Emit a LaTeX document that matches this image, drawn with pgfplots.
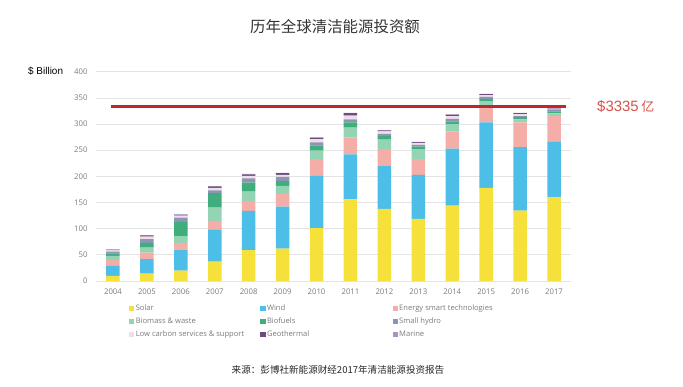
\documentclass[border=0pt]{standalone}
\usepackage{pgfplots}
\pgfplotsset{compat=1.18}
\usepackage{pgfplotstable}
\usepackage{fontspec}
\setmainfont{Open Sans}
\newfontfamily\cjk{Noto Sans CJK SC}
\newfontfamily\arial{Liberation Sans}
\definecolor{csolar}{HTML}{F6E03A}
\definecolor{cwind}{HTML}{4CBEE8}
\definecolor{cesm}{HTML}{F5ADA7}
\definecolor{cbio}{HTML}{93D4B4}
\definecolor{cbiof}{HTML}{3FAE7C}
\definecolor{chydro}{HTML}{8C95B4}
\definecolor{clowc}{HTML}{F0DDE9}
\definecolor{cgeo}{HTML}{6D4C7D}
\definecolor{cmarine}{HTML}{A593C2}
\definecolor{gridgray}{HTML}{E4E4E4}
\definecolor{labelgray}{HTML}{7A7A7A}
\definecolor{linered}{HTML}{C0272D}
\definecolor{textred}{HTML}{D9504A}
\pgfplotstableread{
x solar wind esm bio biof hydro lowc geo marine
0 9.6 19.1 11.3 8 5 3 2.5 1.5 0.3
1 14 28 12 10 9 7 5 2 0.5
2 20 39 14 13 27 8 4 2 0.5
3 37 60.5 17.5 25 28 5 5 3 0.5
4 59 75 19 18 17 8 5 3 0.5
5 62 80 24 16 9 8 4 3 0.5
6 101 100 32 16 10 6 6 3 0.5
7 156 86 32 19 10 6 7 5 0.5
8 138 82.5 31.5 18 7 4 5 2 0.5
9 118.5 84.5 30 19 5 3 4 1.5 0.5
10 144 109 33 14 5 5 5 3 0.5
11 178 125 32 9 4 4 3 2 0.5
12 134.5 121.5 47 6 4 2 4 2 0.5
13 160 106 49.5 5 3.5 4 1.5 2 0.5
}\data
\begin{document}
\begin{tikzpicture}
\path[use as bounding box] (0bp,0bp) rectangle (683bp,-387bp);
\begin{axis}[
  at={(96bp,-281bp)}, anchor=south west,
  width=475bp, height=209.3bp, scale only axis,
  ybar stacked, bar width=13.5bp,
  xmin=-0.5, xmax=13.5, ymin=0, ymax=400,
  ytick={0,50,...,400},
  xtick={0,...,13},
  xticklabels={2004,2005,2006,2007,2008,2009,2010,2011,2012,2013,2014,2015,2016,2017},
  axis line style={draw=none},
  major tick length=0pt,
  ymajorgrids, grid style={color=gridgray, line width=0.7bp},
  tick label style={font=\fontsize{7.8}{9}\selectfont, text=labelgray},
  /pgf/number format/assume math mode=true,
  xticklabel style={yshift=-4.5bp},
  yticklabel style={xshift=-5bp},
  clip=false,
  legend columns=3,
  legend cell align=left,
  legend image code/.code={\path[#1,draw=none] (0bp,-2.6bp) rectangle (5.2bp,2.6bp);},
  legend style={at={(0.063,-0.097)}, anchor=north west, draw=none, fill=none,
    font=\fontsize{7.6}{9}\selectfont, text=labelgray,
    nodes={inner sep=1.5bp},
    row sep=2.5bp},
]
\addplot[fill=csolar, draw=none] table[x=x,y=solar]{\data};
\addplot[fill=cwind, draw=none] table[x=x,y=wind]{\data};
\addplot[fill=cesm, draw=none] table[x=x,y=esm]{\data};
\addplot[fill=cbio, draw=none] table[x=x,y=bio]{\data};
\addplot[fill=cbiof, draw=none] table[x=x,y=biof]{\data};
\addplot[fill=chydro, draw=none] table[x=x,y=hydro]{\data};
\addplot[fill=clowc, draw=none] table[x=x,y=lowc]{\data};
\addplot[fill=cgeo, draw=none] table[x=x,y=geo]{\data};
\addplot[fill=cmarine, draw=none] table[x=x,y=marine]{\data};
\legend{\makebox[123bp][l]{Solar},\makebox[124bp][l]{Wind},Energy smart technologies,
  \makebox[123bp][l]{Biomass \& waste},\makebox[124bp][l]{Biofuels},Small hydro,
  \makebox[123bp][l]{Low carbon services \& support},\makebox[124bp][l]{Geothermal},Marine}
\end{axis}
\begin{axis}[
  at={(96bp,-281bp)}, anchor=south west,
  width=475bp, height=209.3bp, scale only axis,
  xmin=-0.5, xmax=13.5, ymin=0, ymax=400,
  axis lines=none, clip=false,
]
\addplot[linered, line width=2.3bp, no marks] coordinates {(-0.05,333.5) (13.35,333.5)};
\end{axis}
\node[anchor=center, text=black!80] at (335bp,-27bp) {\cjk\fontsize{15.5}{17}\selectfont 历年全球清洁能源投资额};
\node[anchor=west, inner sep=0pt] at (28bp,-71bp) {\arial\fontsize{10}{12}\selectfont \$ Billion};
\node[anchor=west, inner sep=0pt, text=textred] at (597bp,-106bp) {\arial\fontsize{15}{17}\selectfont \$3335\,{\cjk\fontsize{13}{15}\selectfont 亿}};
\node[anchor=center, text=black!85] at (338bp,-370bp) {\cjk\fontsize{9.6}{11}\selectfont 来源：彭博社新能源财经2017年清洁能源投资报告};
\end{tikzpicture}
\end{document}
